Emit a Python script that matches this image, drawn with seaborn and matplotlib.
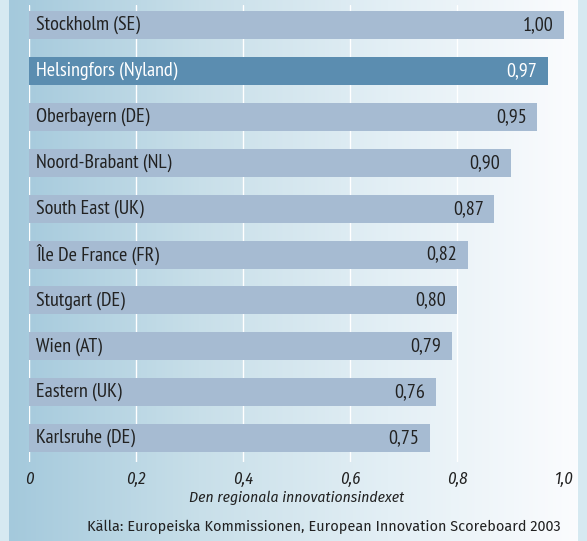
import numpy as np
import pandas as pd
import matplotlib
matplotlib.use('Agg')
import matplotlib.pyplot as plt
from matplotlib.colors import LinearSegmentedColormap
import seaborn as sns

regioner = ['Stockholm (SE)', 'Helsingfors (Nyland)', 'Oberbayern (DE)', 'Noord-Brabant (NL)',
            'South East (UK)', 'Île De France (FR)', 'Stutgart (DE)', 'Wien (AT)',
            'Eastern (UK)', 'Karlsruhe (DE)']
index = [1.00, 0.97, 0.95, 0.90, 0.87, 0.82, 0.80, 0.79, 0.76, 0.75]
markerad = 'Helsingfors (Nyland)'
xticks = [0, 0.2, 0.4, 0.6, 0.8, 1.0]
xticklabels = ['0', '0,2', '0,4', '0,6', '0,8', '1,0']

df = pd.DataFrame({'region': regioner, 'index': index})

sns.set_style('white')
plt.rcParams['font.family'] = ['Fira Sans Condensed', 'DejaVu Sans']
smal = ['PT Sans Narrow', 'Fira Sans Condensed', 'DejaVu Sans']

W, H = 587, 541
fig = plt.figure(figsize=(W / 100, H / 100), dpi=100)
fig.patch.set_facecolor('#d6e9f1')

# bakgrund med gradient
bg = fig.add_axes([9 / W, 0, (578 - 9) / W, 1])
cmap = LinearSegmentedColormap.from_list('bg', ['#a4c9dc', '#c8dfe9', '#e3eff5', '#fbfcfe'])
bg.imshow(np.linspace(0, 1, 256)[None, :], aspect='auto', cmap=cmap, extent=[0, 1, 0, 1])
bg.set_axis_off()

top_px, bot_px = 5, 462
ax = fig.add_axes([29 / W, 1 - bot_px / H, (564 - 29) / W, (bot_px - top_px) / H])
ax.patch.set_alpha(0)

farger = ['#5b8db0' if r == markerad else '#a6bbd2' for r in regioner]
sns.barplot(data=df, x='index', y='region', hue='region', palette=farger, legend=False,
            orient='h', width=0.61, saturation=1, linewidth=0, ax=ax, zorder=2)

ax.set_xlim(0, 1.0)
ax.set_ylim(9.52, -0.44)
for x in xticks:
    ax.axvline(x, color='white', lw=1, zorder=1)
ax.set_xticks(xticks)
ax.set_xticklabels(xticklabels, fontsize=12, style='italic', color='#222222')
ax.set_yticks([])
ax.set_ylabel('')
ax.set_xlabel('Den regionala innovationsindexet', fontsize=11.2, style='italic',
              color='#222222', labelpad=2)
ax.tick_params(axis='x', length=0, pad=7)
sns.despine(ax=ax, left=True, bottom=True)

for i, (r, v) in enumerate(zip(regioner, index)):
    c = 'white' if r == markerad else '#222222'
    ax.text(0.013, i, r, va='center', ha='left', fontsize=14.5, color=c, zorder=3, family=smal)
    ax.text(v - 0.02, i, f'{v:.2f}'.replace('.', ','), va='center', ha='right',
            fontsize=14.5, color=c, zorder=3, family=smal)

fig.text(561 / W, 1 - 527 / H,
         'Källa: Europeiska Kommissionen, European Innovation Scoreboard 2003',
         ha='right', va='center', fontsize=10.4, color='#222222',
         family=['Fira Sans', 'DejaVu Sans'])

plt.savefig('out.png', dpi=100, facecolor=fig.get_facecolor())
